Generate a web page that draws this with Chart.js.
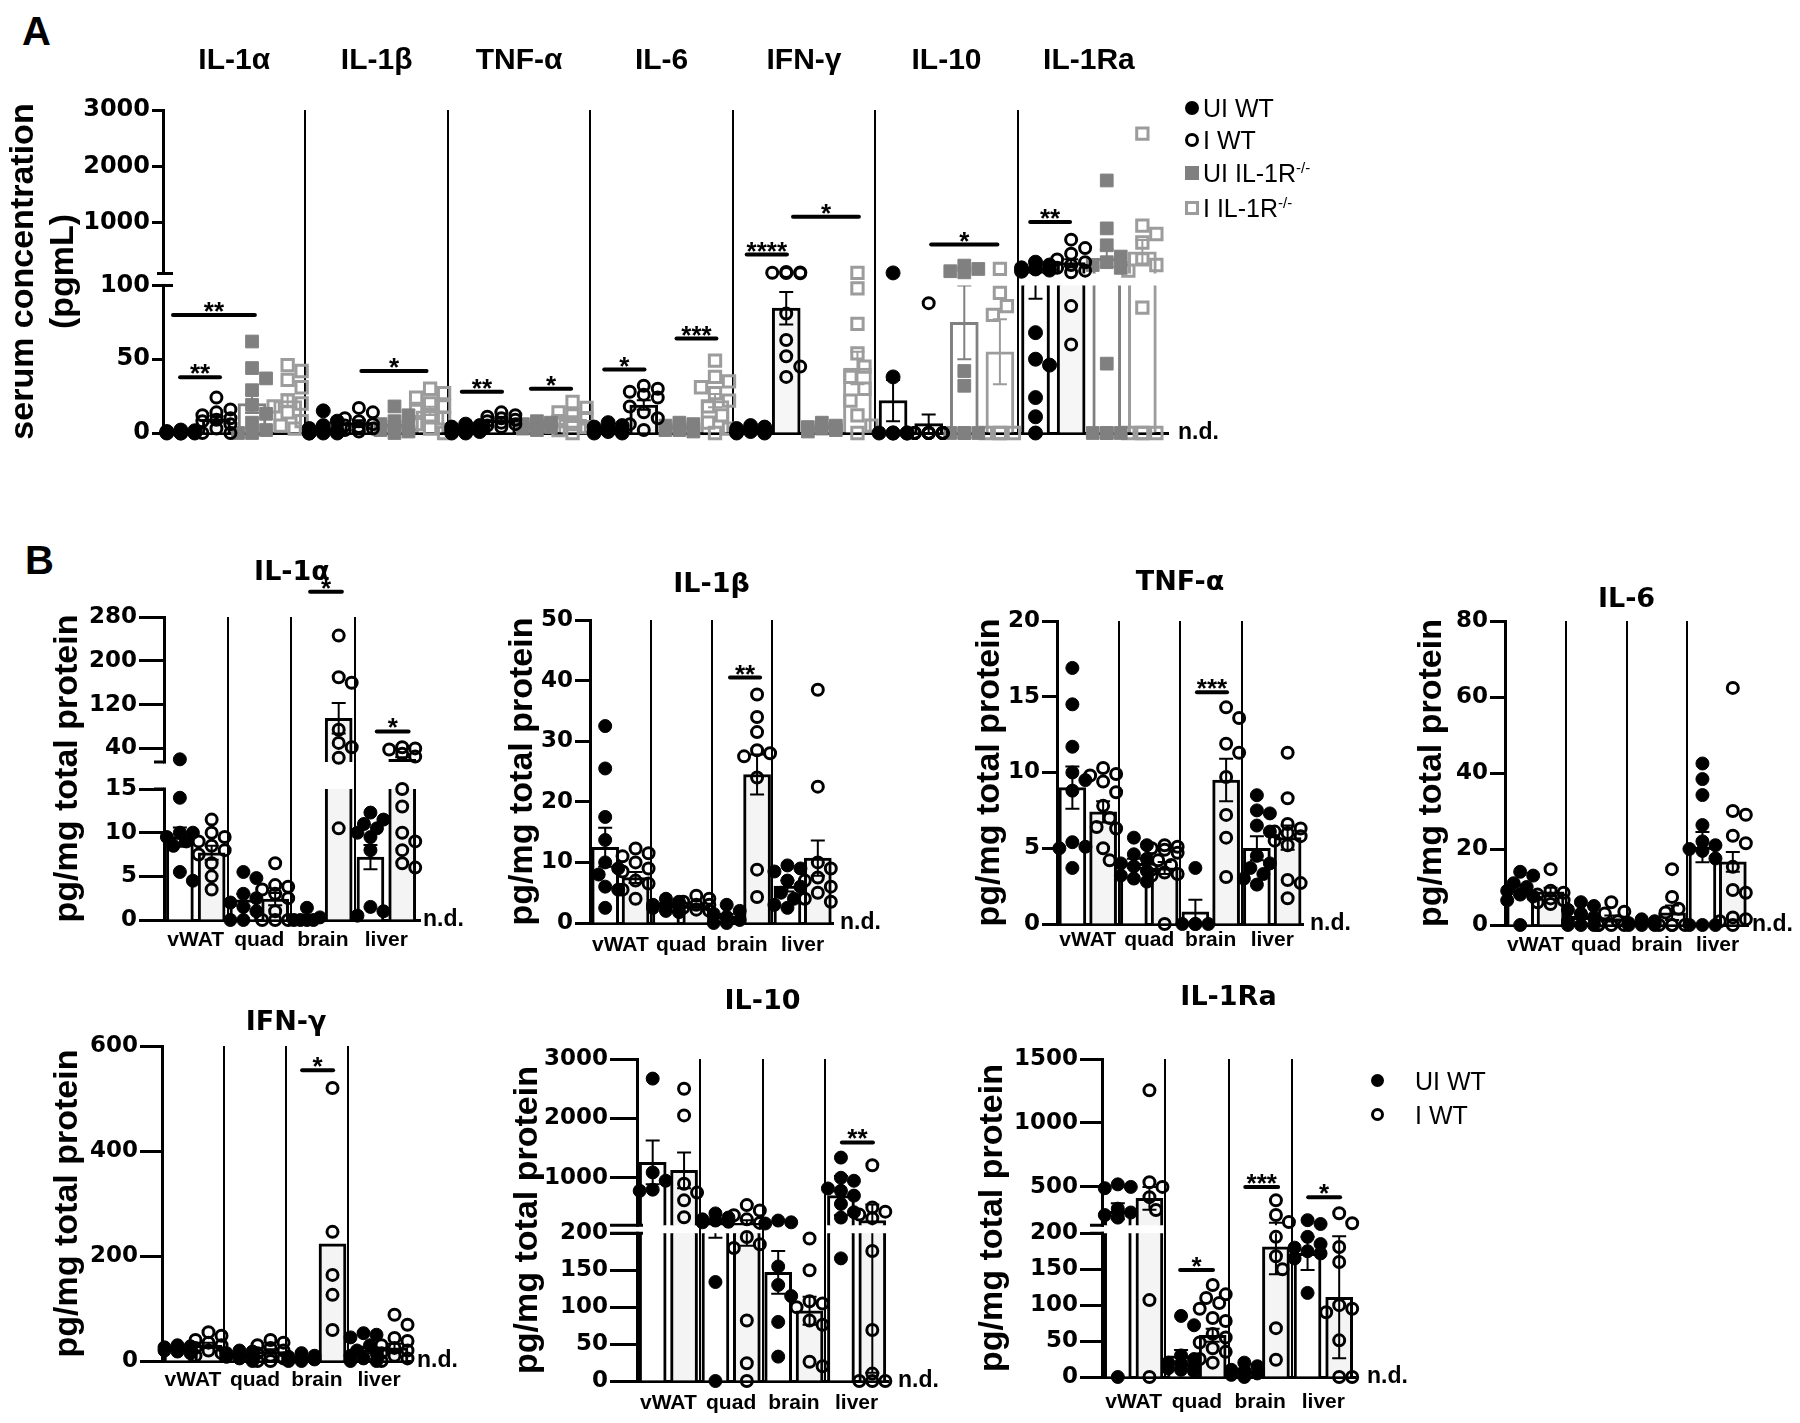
<!DOCTYPE html>
<html>
<head>
<meta charset="utf-8">
<title>Serum and tissue cytokines</title>
<script src="https://cdn.jsdelivr.net/npm/chart.js@4.4.1/dist/chart.umd.min.js"></script>
<style>
html,body{margin:0;padding:0;background:#fff;}
body{width:1800px;height:1423px;position:relative;overflow:hidden;font-family:"Liberation Sans",Arial,sans-serif;color:#000;}
canvas{position:absolute;}
.plabel{position:absolute;font-weight:bold;font-size:40px;line-height:40px;}
.leg{position:absolute;font-size:25px;line-height:30px;height:30px;white-space:nowrap;z-index:5;}
.leg .mk{position:absolute;top:8px;width:14px;height:14px;box-sizing:border-box;}
.leg .tx{position:absolute;top:0;}
.leg sup{font-size:15px;vertical-align:top;position:relative;top:-5px;}
</style>
</head>
<body>
<div class="plabel" style="left:22px;top:11px;">A</div>
<div class="plabel" style="left:25px;top:540px;">B</div>

<div class="leg" style="left:1185px;top:93px;"><span class="mk" style="left:0;background:#000;border-radius:50%"></span><span class="tx" style="left:18px">UI WT</span></div>
<div class="leg" style="left:1185px;top:125px;"><span class="mk" style="left:0;border:3px solid #000;border-radius:50%"></span><span class="tx" style="left:18px">I WT</span></div>
<div class="leg" style="left:1185px;top:158px;"><span class="mk" style="left:0;background:#808080"></span><span class="tx" style="left:18px">UI IL-1R<sup>-/-</sup></span></div>
<div class="leg" style="left:1185px;top:193px;"><span class="mk" style="left:0;border:3px solid #9c9c9c"></span><span class="tx" style="left:18px">I IL-1R<sup>-/-</sup></span></div>

<div class="leg" style="left:1371px;top:1066px;"><span class="mk" style="left:0;width:13px;height:13px;background:#000;border-radius:50%"></span><span class="tx" style="left:44px">UI WT</span></div>
<div class="leg" style="left:1371px;top:1100px;"><span class="mk" style="left:0;width:13px;height:13px;border:3px solid #000;border-radius:50%"></span><span class="tx" style="left:44px">I WT</span></div>

<script>
// ================= DATA =================
// Panel A: serum concentration (pg/mL)
const A_groups = ['IL-1α','IL-1β','TNF-α','IL-6','IFN-γ','IL-10','IL-1Ra'];
const A_series = ['UI WT','I WT','UI IL-1R-/-','I IL-1R-/-'];
const A_yTicks = [0,50,100,1000,2000,3000];

const A_UIWT_pts = [
  [2,1.5,1,1,0.5,0.5,0,0,0,0],
  [15,8,5,3,2,1,0,0,0,0],
  [6,5,4,3,2,2,1,1,0,0],
  [7,5,4,3,2,1,1,0,0],
  [5,4,3,2,2,1,1,0,0],
  [110,38,0,0,0,0,0],
  [300,250,200,180,160,140,68,50,46,24,11,0]
];
const A_UIWT_mean = [0.7,3.4,2.4,2.6,2.0,22,119];
const A_UIWT_sem  = [0.3,1.5,0.7,0.8,0.6,14,28];

const A_IWT_pts = [
  [24,16,14,12,10,9,8,6,3,0,0],
  [17,14,10,8,6,5,4,3,2,1],
  [14,12,11,10,9,8,7,6,5,4],
  [32,30,28,26,24,18,14,10,6,2],
  [125,118,112,108,104,81,63,52,45,38],
  [88,0,0,0,0,0,0,0,0,0,0,0,0,0],
  [700,550,450,350,300,250,200,150,120,86,60]
];
const A_IWT_mean = [9.3,7.0,8.6,19,84.6,6.3,292];
const A_IWT_sem  = [2.2,1.6,1.0,3.2,11,6.3,60];

const A_UIKO_pts = [
  [62,44,37,29,19,13,7,2,0,0],
  [18,12,8,6,4,3,2,1,0],
  [8,7,6,5,4,3,2],
  [7,6,5,4,3,2,2,1],
  [7,5,4,3,2,1],
  [240,180,140,120,42,32,0,0,0,0],
  [1750,900,600,400,300,250,200,47,0,0,0,0]
];
const A_UIKO_mean = [20,6,5,3.8,3.7,75,370];
const A_UIKO_sem  = [6.5,2,0.8,0.7,0.9,25,150];

const A_IKO_pts = [
  [46,42,36,31,22,20,18,14,8,5,3],
  [30,27,24,20,18,15,12,10,6,3,0],
  [21,17,14,12,10,8,6,4,2,0],
  [49,38,35,31,27,22,18,12,7,3,0],
  [110,98,74,54,45,38,30,22,12,5,0],
  [180,95,86,80,0,0,0,0],
  [2580,950,800,650,350,250,150,85,0,0,0,0]
];
const A_IKO_mean = [22,15,9.4,22,44,55,485];
const A_IKO_sem  = [4.2,2.8,2,4.5,11,22,210];

// significance bars: [x from, x to (bar slots), height (pg/mL), label]
const A_sig = [
  [0.28,2.58,80,'**'],[0.48,1.6,37.8,'**'],[5.57,7.4,42,'*'],
  [8.39,9.52,28,'**'],[10.33,11.46,30,'*'],[12.39,13.52,43,'*'],[14.42,15.54,64,'***'],
  [16.39,17.52,435,'****'],[17.69,19.54,1108,'*'],[21.57,23.43,613,'*'],[24.35,25.47,1014,'**']
];

// Panel B: pg/mg total protein, tissues
const B_tissues = ['vWAT','quad','brain','liver'];

const B_IL1a_ticks = [0,5,10,15,40,120,200,280];
const B_IL1a_UI_pts = [[20,14,10,10,9.5,9,8.5,5.5,4.5],[5.5,4.8,3,2.5,2,1.5,1,0,0],[1.4,0.3,0,0,0,0],[12.3,11.5,11,10.5,10,9.5,8,1.5,1,0.5]];
const B_IL1a_UI_mean = [9.5,2.3,0.3,7.2];
const B_IL1a_UI_sem  = [1.1,0.7,0.2,1.4];
const B_IL1a_I_pts = [[11.5,10,9.5,9,8.5,8,7.5,6.5,5,3.5],[6.5,4,3.8,3.5,3,2.5,1,0,0,0],[246,170,160,74,50,42,23,10.5],[42,40,38,30,25,15,13,10,9,8,6.5,6]];
const B_IL1a_I_mean = [7.7,2.4,95,20];
const B_IL1a_I_sem  = [0.8,0.7,28,4];
const B_IL1a_sig = [[4.6,5.6,326,'*'],[6.7,7.7,71,'*']];

const B_IL1b_ticks = [0,10,20,30,40,50];
const B_IL1b_UI_pts = [[32.5,25.5,17.5,13.7,10,9,8,6,5.5,2.5],[4,3.5,3,3,2.8,2.5,2,1.8],[3,2,1.5,1,0.5,0,0],[9.5,9,8.5,7,6,5,4,3,2.5]];
const B_IL1b_UI_mean = [12.5,2.9,1.1,6.1];
const B_IL1b_UI_sem  = [3.2,0.3,0.4,0.9];
const B_IL1b_I_pts = [[12.3,11.5,11,10,9,8.5,7,6.5,5.5,4],[4.5,4,3.5,3,3,2.5,2.2,2],[37.7,34,31.5,28.5,28,27.5,24,8.8,4.3],[38.5,22.5,10,9,7.5,7,6,5,4,3.5]];
const B_IL1b_I_mean = [7.5,2.8,24.5,10.7];
const B_IL1b_I_sem  = [0.9,0.3,3.3,2.9];
const B_IL1b_sig = [[4.61,5.6,40.5,'**']];

const B_TNFa_ticks = [0,5,10,15,20];
const B_TNFa_UI_pts = [[16.9,14.5,11.7,10,9.5,8.8,5.4,5.1,5,3.7],[5.7,5.2,4.6,4.3,4,3.8,3.5,3.2,3,2.8],[3.7,0,0,0,0],[8.5,7.5,7.3,6.5,6.1,4.5,4,3.7,3.3,3,2.6]];
const B_TNFa_UI_mean = [9.0,4.0,0.8,5.0];
const B_TNFa_UI_sem  = [1.4,0.3,0.8,0.8];
const B_TNFa_I_pts = [[10.3,9.9,9.8,9.4,8.7,7.8,7,6.4,6.3,5,4.2],[5.2,5.1,5,4.9,4.7,4.2,3.9,3.6,3.4,3.3,3.2,0],[14.3,13.6,11.9,11.3,9.7,7.2,5.7,3.1],[11.3,8.3,6.6,6.3,6.1,6,5.8,5.5,5.2,2.9,2.7,1.7]];
const B_TNFa_I_mean = [7.4,3.7,9.5,5.7];
const B_TNFa_I_sem  = [0.7,0.4,1.4,0.8];
const B_TNFa_sig = [[4.55,5.53,15.3,'***']];

const B_IL6_ticks = [0,20,40,60,80];
const B_IL6_UI_pts = [[14,13,11,10,9,8,7.5,6.5,0],[6,5,4,3,2,1,0,0,0],[1.5,1,0.5,0,0,0],[42.5,38.4,34.2,26.3,22,21,20,19.5,17.5,0,0,0]];
const B_IL6_UI_mean = [9.2,2.3,0.5,20.5];
const B_IL6_UI_sem  = [1.4,0.7,0.3,4];
const B_IL6_I_pts = [[14.7,9,8.5,8,7,6.5,6,5.5],[6,3.5,3,1,0,0,0,0],[14.7,7.4,4.3,3.3,0,0,0,0],[62.4,30,29,23.5,21.5,15.3,9.2,8.5,2,1.5,1,0]];
const B_IL6_I_mean = [8.7,1.7,3.2,16.6];
const B_IL6_I_sem  = [1.1,0.8,1.9,2.6];
const B_IL6_sig = [];

const B_IFNg_ticks = [0,200,400,600];
const B_IFNg_UI_pts = [[30,28,26,24,22,20,18,15],[20,18,15,12,10,8,5,0],[15,10,8,5,3,0,0],[53,50,45,30,20,15,10,5,0,0]];
const B_IFNg_UI_mean = [22.9,11,5.9,21];
const B_IFNg_UI_sem  = [1.8,2.4,2.2,6];
const B_IFNg_I_pts = [[55,48,40,35,30,25,20,15,10],[40,35,30,25,20,15,10,5,0,0],[520,246,164,126,59],[88,69,44,38,30,25,20,15,10,5,0]];
const B_IFNg_I_mean = [30,18,223,25];
const B_IFNg_I_sem  = [5,4.3,0,8];
const B_IFNg_sig = [[4.52,5.52,554,'*']];

const B_IL10_ticks = [0,50,100,150,200,1000,2000,3000];
const B_IL10_UI_pts = [[2670,1090,950,800,780],[400,330,300,280,260,250,134,0],[280,250,230,155,130,115,80,33],[1340,1000,950,820,780,700,560,420,330,166]];
const B_IL10_UI_mean = [1259,244,147,700];
const B_IL10_UI_sem  = [370,50,29,330];
const B_IL10_I_pts = [[2500,2050,900,750,620,335],[540,450,370,300,240,195,185,180,82,24,0],[193,150,108,105,100,82,76,26,20],[1210,500,430,380,320,176,69,10,0,0,0]];
const B_IL10_I_mean = [1124,233,95,281];
const B_IL10_I_sem  = [300,50,19,270];
const B_IL10_sig = [[6.53,7.52,1595,'**']];

const B_IL1Ra_ticks = [0,50,100,150,200,500,1000,1500];
const B_IL1Ra_UI_pts = [[520,500,490,330,300,280,260,0],[85,72,30,25,20,18,15,12,10,8],[20,15,10,8,5,3,0],[240,210,195,185,180,175,172,165,117]];
const B_IL1Ra_UI_mean = [310,29.5,8.7,172];
const B_IL1Ra_UI_sem  = [62,8,2.8,23];
const B_IL1Ra_I_pts = [[1255,536,500,420,320,107,0],[128,115,110,103,95,82,78,60,55,48,40,35,25,20],[395,280,225,195,168,150,68,24],[294,216,181,160,100,95,90,51,0,0]];
const B_IL1Ra_I_mean = [411,58,181,111];
const B_IL1Ra_I_sem  = [89,9,38,85];
const B_IL1Ra_sig = [[2.47,3.51,149,'*'],[4.53,5.57,500,'***'],[6.52,7.53,420,'*']];

// ================= DRAWING =================
Chart.defaults.color = '#000';
Chart.defaults.font.family = 'Liberation Sans';

function makeTransform(brk) {
  if (!brk) return v => v;
  return v => v <= brk.lowTop ? v : brk.lowTop + brk.gap + (v - brk.lowTop) * brk.k;
}

// spread dots sideways so they do not sit on top of each other (layout only)
function swarm(vals, cx, toD, pxX, pxY, diam, maxHalf) {
  const idx = vals.map((v, i) => i).sort((a, b) => vals[b] - vals[a]);
  const placed = [], out = [];
  const step = diam * 0.5;
  const offs = [0];
  for (let k = 1; k * step <= maxHalf + 0.01; k++) offs.push(k * step, -k * step);
  idx.forEach(i => {
    const yp = toD(vals[i]) * pxY;
    let best = 0, bestOv = Infinity;
    for (const o of offs) {
      let ov = 0;
      for (const p of placed) {
        const d = Math.hypot(p[0] - o, p[1] - yp);
        if (d < diam) ov += diam - d;
      }
      if (ov < bestOv - 1e-9) { bestOv = ov; best = o; }
      if (ov === 0) break;
    }
    placed.push([best, yp]);
    out.push({x: cx + best / pxX, y: toD(vals[i])});
  });
  return out;
}

let chartCount = 0;
function makeChart(c) {
  const [cx, cy, cw, ch] = c.box;
  const cv = document.createElement('canvas');
  cv.width = cw; cv.height = ch;
  cv.style.left = cx + 'px'; cv.style.top = cy + 'px';
  cv.style.width = cw + 'px'; cv.style.height = ch + 'px';
  document.body.appendChild(cv);

  const toD = makeTransform(c.brk);
  const yMax = toD(c.yTicks[c.yTicks.length - 1]);
  const pxX = (c.R - c.L) / c.xMax, pxY = (c.B - c.T) / yMax;
  const per = c.series.length, nG = c.nGroups;
  const centers = [], bounds = [];
  for (let g = 0; g < nG; g++) { centers.push(g * per + per / 2); if (g > 0) bounds.push(g * per); }
  const yW = c.L - cx, botH = cy + ch - c.B, rightW = cx + cw - c.R;

  const datasets = [];
  c.series.forEach((s, si) => {
    datasets.push({
      type: 'bar', label: s.name, order: 2, xAxisID: 'x', yAxisID: 'y', grouped: false,
      data: s.mean.map((m, gi) => ({x: gi * per + si + 0.5, y: toD(m)})),
      rawMean: s.mean, sem: s.sem,
      backgroundColor: s.barFill, borderColor: s.color, borderWidth: 3,
      barThickness: c.barW, borderSkipped: 'start'
    });
  });
  c.series.forEach((s, si) => {
    let pts = [];
    s.pts.forEach((arr, gi) => { pts = pts.concat(swarm(arr, gi * per + si + 0.5, toD, pxX, pxY, c.diam, c.barW / 2)); });
    datasets.push({
      type: 'scatter', label: s.name + ' (individual)', order: 1, xAxisID: 'x', yAxisID: 'y',
      data: pts, clip: false, showLine: false,
      pointStyle: s.ps, pointRadius: s.pr, pointHoverRadius: s.pr,
      pointBackgroundColor: s.pbg, pointBorderColor: s.color,
      pointBorderWidth: s.pbw, pointHoverBorderWidth: s.pbw
    });
  });

  const brkPx = chart => {
    const ys = chart.scales.y;
    return [ys.getPixelForValue(c.brk.lowTop + c.brk.gap), ys.getPixelForValue(c.brk.lowTop)];
  };

  const plugin = {
    id: 'decor' + (chartCount++),
    beforeDatasetDraw(chart, args) {
      if (args.meta.type !== 'bar') return;
      const ctx = chart.ctx;
      ctx.save();
      if (c.brk) {
        const [hi, lo] = brkPx(chart);
        ctx.beginPath();
        ctx.rect(0, 0, chart.width, hi);
        ctx.rect(0, lo, chart.width, chart.height - lo);
        ctx.clip();
      }
    },
    afterDatasetDraw(chart, args) {
      if (args.meta.type !== 'bar') return;
      const ctx = chart.ctx, ys = chart.scales.y;
      const ds = chart.data.datasets[args.index];
      ctx.strokeStyle = ds.borderColor;
      ctx.lineWidth = c.errW;
      args.meta.data.forEach((bar, i) => {
        const m = ds.rawMean[i], s = ds.sem[i];
        if (!s) return;
        const yT = ys.getPixelForValue(toD(m + s));
        const yB = ys.getPixelForValue(toD(Math.max(0, m - s)));
        ctx.beginPath();
        ctx.moveTo(bar.x, yT); ctx.lineTo(bar.x, yB);
        ctx.moveTo(bar.x - c.capW, yT); ctx.lineTo(bar.x + c.capW, yT);
        ctx.moveTo(bar.x - c.capW, yB); ctx.lineTo(bar.x + c.capW, yB);
        ctx.stroke();
      });
      ctx.restore();
    },
    afterDatasetsDraw(chart) {
      const ctx = chart.ctx, xs = chart.scales.x, ys = chart.scales.y;
      ctx.save();
      ctx.strokeStyle = '#000'; ctx.fillStyle = '#000';
      ctx.lineWidth = 4; ctx.lineCap = 'round';
      ctx.font = 'bold 26px "Liberation Sans"';
      ctx.textAlign = 'center'; ctx.textBaseline = 'alphabetic';
      c.sig.forEach(([x1, x2, v, lab]) => {
        const p1 = xs.getPixelForValue(x1), p2 = xs.getPixelForValue(x2);
        const py = ys.getPixelForValue(toD(v));
        ctx.beginPath(); ctx.moveTo(p1, py); ctx.lineTo(p2, py); ctx.stroke();
        ctx.fillText(lab, (p1 + p2) / 2, py + 5);
      });
      ctx.restore();
    },
    afterDraw(chart) {
      if (!c.brk) return;
      const ctx = chart.ctx, ys = chart.scales.y;
      const [hi, lo] = brkPx(chart);
      const ax = ys.right;
      ctx.save();
      ctx.fillStyle = '#fff';
      ctx.fillRect(ax - 3, hi + 1.5, 6, lo - hi - 3);
      ctx.strokeStyle = '#000'; ctx.lineWidth = 3;
      ctx.beginPath();
      ctx.moveTo(ax + c.brk.s1, hi); ctx.lineTo(ax + c.brk.s2, hi);
      ctx.moveTo(ax + c.brk.s1, lo); ctx.lineTo(ax + c.brk.s2, lo);
      ctx.stroke();
      ctx.restore();
    }
  };

  const yTitleLH = c.yTitleLH || 1.2;
  const yTitleLinePx = 34 * yTitleLH;
  const scales = {
    x: {
      type: 'linear', position: 'bottom', min: 0, max: c.xMax, offset: false,
      afterBuildTicks: sc => { sc.ticks = centers.map(v => ({value: v})); },
      afterFit: sc => { sc.height = botH; },
      ticks: {
        display: !!c.xLabels, autoSkip: false, maxRotation: 0, minRotation: 0,
        padding: c.xLabels ? (c.xLabelCY - c.B - 12.6) : 0,
        font: {family: 'Liberation Sans', size: 21, weight: 'bold', lineHeight: 1.2},
        color: '#000',
        callback: (v, i) => c.xLabels ? c.xLabels[i] : ''
      },
      grid: {display: false, drawTicks: false, offset: false},
      border: {display: true, width: 3, color: '#000'}
    },
    xs: {
      type: 'linear', position: 'bottom', min: 0, max: c.xMax, offset: false,
      afterBuildTicks: sc => { sc.ticks = bounds.map(v => ({value: v})); },
      afterFit: sc => { sc.height = 0; },
      ticks: {display: false},
      grid: {display: true, drawOnChartArea: true, drawTicks: false, offset: false, color: '#000', lineWidth: 2},
      border: {display: false}
    },
    y: {
      type: 'linear', position: 'left', min: 0, max: yMax,
      afterBuildTicks: sc => { sc.ticks = c.yTicks.map(v => ({value: toD(v)})); },
      afterFit: sc => { sc.width = yW; },
      ticks: {
        autoSkip: false, padding: 2,
        font: {family: 'DejaVu Sans', size: c.tickFont, weight: 'bold'},
        color: '#000',
        callback: (v, i) => String(c.yTicks[i])
      },
      grid: {display: true, drawOnChartArea: false, drawTicks: true, tickLength: c.tickLen, tickWidth: 3, tickColor: '#000'},
      border: {display: true, width: 3, color: '#000'},
      title: {
        display: true, text: c.yTitle, color: '#000',
        font: {family: 'Liberation Sans', size: 34, weight: 'bold', lineHeight: yTitleLH},
        padding: {top: c.yTitleCX - cx - yTitleLinePx / 2, bottom: 0}
      }
    },
    yr: {
      type: 'linear', position: 'right', min: 0, max: yMax,
      afterBuildTicks: sc => { sc.ticks = [{value: 0}]; },
      afterFit: sc => { sc.width = rightW; },
      ticks: {padding: c.ndPad, font: {family: 'Liberation Sans', size: 23, weight: 'bold'}, color: '#000', callback: () => 'n.d.'},
      grid: {display: false, drawTicks: false},
      border: {display: false}
    }
  };
  if (c.topLabels) {
    scales.xt = {
      type: 'linear', position: 'top', min: 0, max: c.xMax, offset: false,
      afterBuildTicks: sc => { sc.ticks = centers.map(v => ({value: v})); },
      afterFit: sc => { sc.height = c.T - cy; },
      ticks: {
        autoSkip: false, maxRotation: 0, minRotation: 0,
        padding: c.T - c.topLabelCY - 18,
        font: {family: 'Liberation Sans', size: 30, weight: 'bold', lineHeight: 1.2},
        color: '#000',
        callback: (v, i) => c.topLabels[i]
      },
      grid: {display: false, drawTicks: false, offset: false},
      border: {display: false}
    };
  }
  const titleLH = 27 * 1.2;
  const titleOpt = c.title ? {
    display: true, text: c.title, fullSize: false, color: '#000',
    font: {family: 'DejaVu Sans', size: 27, weight: 'bold', lineHeight: 1.2},
    padding: {top: c.titleCY - cy - titleLH / 2, bottom: c.T - c.titleCY - titleLH / 2}
  } : {display: false};

  return new Chart(cv, {
    type: 'bar',
    data: {datasets},
    options: {
      responsive: false, animation: false, devicePixelRatio: 1, events: [],
      layout: {padding: 0, autoPadding: false},
      plugins: {legend: {display: false}, tooltip: {enabled: false}, title: titleOpt},
      scales
    },
    plugins: [plugin]
  });
}

function seriesA(name, pts, mean, sem, kind) {
  const st = {
    uiwt: {color: '#000', barFill: '#ffffff', ps: 'circle', pr: 7, pbg: '#000', pbw: 1},
    iwt:  {color: '#000', barFill: '#f6f6f6', ps: 'circle', pr: 5.5, pbg: 'rgba(0,0,0,0)', pbw: 3},
    uiko: {color: '#808080', barFill: '#ffffff', ps: 'rect', pr: 9, pbg: '#808080', pbw: 1},
    iko:  {color: '#9c9c9c', barFill: '#ffffff', ps: 'rect', pr: 8, pbg: 'rgba(0,0,0,0)', pbw: 3}
  }[kind];
  return Object.assign({name, pts, mean, sem}, st);
}
function seriesB(uiPts, uiMean, uiSem, iPts, iMean, iSem) {
  return [
    {name: 'UI WT', pts: uiPts, mean: uiMean, sem: uiSem, color: '#000', barFill: '#ffffff', ps: 'circle', pr: 6.5, pbg: '#000', pbw: 1},
    {name: 'I WT', pts: iPts, mean: iMean, sem: iSem, color: '#000', barFill: '#f4f4f4', ps: 'circle', pr: 5.5, pbg: 'rgba(0,0,0,0)', pbw: 3}
  ];
}

// ---- Panel A ----
makeChart({
  box: [0, 0, 1230, 470], L: 163, T: 110, R: 1168, B: 433,
  xMax: 28.22, nGroups: 7, topLabels: A_groups, topLabelCY: 61, xLabels: null,
  yTicks: A_yTicks, brk: {lowTop: 100, gap: 8.1, k: 0.0382, s1: -6, s2: 10},
  tickLen: 11, tickFont: 24,
  yTitle: ['serum concentration', '(pgmL)'], yTitleCX: 24, yTitleLH: 1.18,
  series: [
    seriesA(A_series[0], A_UIWT_pts, A_UIWT_mean, A_UIWT_sem, 'uiwt'),
    seriesA(A_series[1], A_IWT_pts, A_IWT_mean, A_IWT_sem, 'iwt'),
    seriesA(A_series[2], A_UIKO_pts, A_UIKO_mean, A_UIKO_sem, 'uiko'),
    seriesA(A_series[3], A_IKO_pts, A_IKO_mean, A_IKO_sem, 'iko')
  ],
  barW: 28, diam: 14, errW: 2, capW: 7, ndPad: 10, sig: A_sig
});

// ---- Panel B ----
const bCommon = {nGroups: 4, xLabels: B_tissues, yTitle: 'pg/mg total protein', barW: 27, diam: 13, errW: 2, capW: 7, tickFont: 23};

makeChart(Object.assign({}, bCommon, {
  box: [0, 545, 470, 415], L: 164, T: 617, R: 420, B: 920, xMax: 8.06,
  title: 'IL-1α', titleCY: 573, xLabelCY: 940, yTitleCX: 68, tickLen: 25, ndPad: 3,
  yTicks: B_IL1a_ticks, brk: {lowTop: 15, gap: 3.09, k: 0.0627, s1: -10, s2: 0},
  series: seriesB(B_IL1a_UI_pts, B_IL1a_UI_mean, B_IL1a_UI_sem, B_IL1a_I_pts, B_IL1a_I_mean, B_IL1a_I_sem),
  sig: B_IL1a_sig
}));

makeChart(Object.assign({}, bCommon, {
  box: [480, 550, 420, 410], L: 590, T: 620, R: 833, B: 923, xMax: 8,
  title: 'IL-1β', titleCY: 585, xLabelCY: 945, yTitleCX: 523, tickLen: 15, ndPad: 7,
  yTicks: B_IL1b_ticks, brk: null,
  series: seriesB(B_IL1b_UI_pts, B_IL1b_UI_mean, B_IL1b_UI_sem, B_IL1b_I_pts, B_IL1b_I_mean, B_IL1b_I_sem),
  sig: B_IL1b_sig
}));

makeChart(Object.assign({}, bCommon, {
  box: [940, 550, 420, 410], L: 1057, T: 621, R: 1303, B: 924, xMax: 8,
  title: 'TNF-α', titleCY: 583, xLabelCY: 940, yTitleCX: 990, tickLen: 15, ndPad: 7,
  yTicks: B_TNFa_ticks, brk: null,
  series: seriesB(B_TNFa_UI_pts, B_TNFa_UI_mean, B_TNFa_UI_sem, B_TNFa_I_pts, B_TNFa_I_mean, B_TNFa_I_sem),
  sig: B_TNFa_sig
}));

makeChart(Object.assign({}, bCommon, {
  box: [1380, 560, 420, 400], L: 1505, T: 621, R: 1748, B: 925, xMax: 8,
  title: 'IL-6', titleCY: 600, xLabelCY: 945, yTitleCX: 1432, tickLen: 15, ndPad: 4,
  yTicks: B_IL6_ticks, brk: null,
  series: seriesB(B_IL6_UI_pts, B_IL6_UI_mean, B_IL6_UI_sem, B_IL6_I_pts, B_IL6_I_mean, B_IL6_I_sem),
  sig: B_IL6_sig
}));

makeChart(Object.assign({}, bCommon, {
  box: [0, 985, 470, 420], L: 162, T: 1046, R: 410, B: 1361, xMax: 8,
  title: 'IFN-γ', titleCY: 1023, xLabelCY: 1380, yTitleCX: 68, tickLen: 22, ndPad: 7,
  yTicks: B_IFNg_ticks, brk: null,
  series: seriesB(B_IFNg_UI_pts, B_IFNg_UI_mean, B_IFNg_UI_sem, B_IFNg_I_pts, B_IFNg_I_mean, B_IFNg_I_sem),
  sig: B_IFNg_sig
}));

makeChart(Object.assign({}, bCommon, {
  box: [490, 985, 460, 438], L: 637, T: 1059, R: 888, B: 1381, xMax: 8,
  title: 'IL-10', titleCY: 1002, xLabelCY: 1403, yTitleCX: 528, tickLen: 27, ndPad: 10,
  yTicks: B_IL10_ticks, brk: {lowTop: 200, gap: 10.8, k: 0.0804, s1: -27, s2: 6},
  series: seriesB(B_IL10_UI_pts, B_IL10_UI_mean, B_IL10_UI_sem, B_IL10_I_pts, B_IL10_I_mean, B_IL10_I_sem),
  sig: B_IL10_sig
}));

makeChart(Object.assign({}, bCommon, {
  box: [950, 980, 460, 443], L: 1102, T: 1059, R: 1355, B: 1377, xMax: 8,
  title: 'IL-1Ra', titleCY: 998, xLabelCY: 1402, yTitleCX: 993, tickLen: 22, ndPad: 12,
  yTicks: B_IL1Ra_ticks, brk: {lowTop: 200, gap: 11.1, k: 0.178, s1: -12, s2: 2},
  series: seriesB(B_IL1Ra_UI_pts, B_IL1Ra_UI_mean, B_IL1Ra_UI_sem, B_IL1Ra_I_pts, B_IL1Ra_I_mean, B_IL1Ra_I_sem),
  sig: B_IL1Ra_sig
}));
</script>
</body>
</html>
